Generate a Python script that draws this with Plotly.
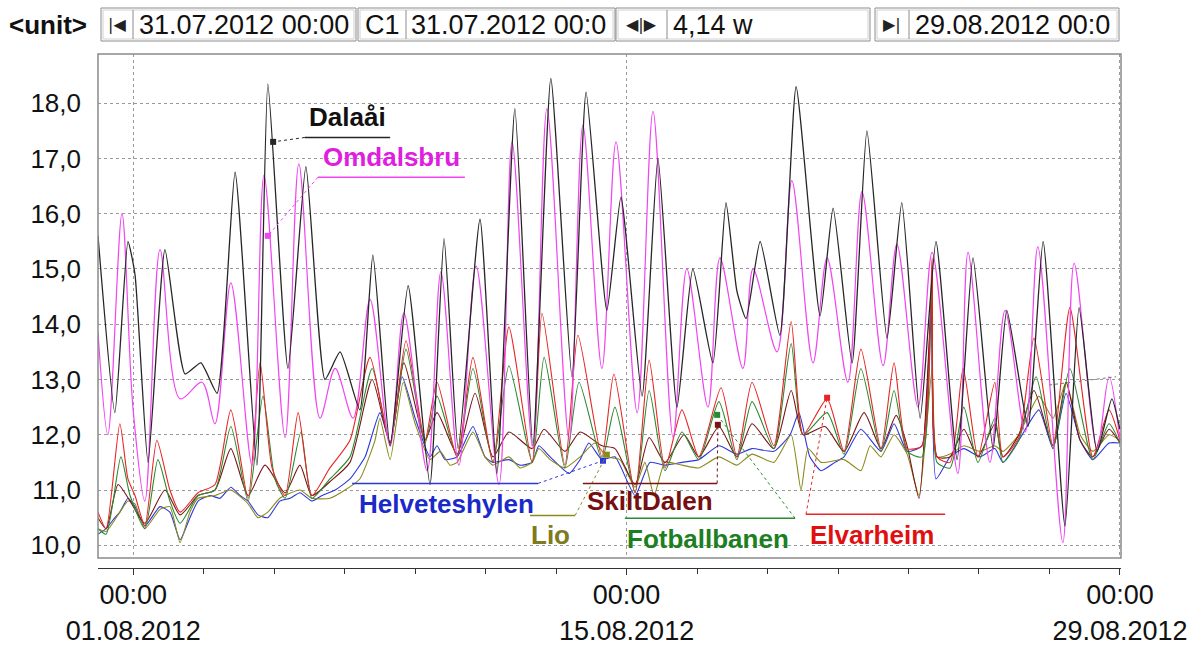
import pandas as pd
import plotly.graph_objects as go

# ---------------- data (days since 31.07.2012 00:00, temperature) ----------------
BASE = pd.Timestamp("2012-07-31 00:00")

dalaai_t = [0, 0.48, 0.85, 1.05, 1.42, 1.90, 2.47, 2.92, 3.38, 3.89, 4.51, 4.82, 5.39, 5.90, 6.44,
            6.87, 7.43, 7.80, 8.29, 8.80, 9.42, 9.82, 10.22, 10.84, 11.32, 11.83, 12.34, 12.85,
            13.45, 13.85, 14.44, 14.84, 15.44, 15.89, 16.43, 16.88, 17.45, 17.82, 18.13, 18.39,
            18.79, 19.35, 19.81, 20.49, 20.86, 21.40, 21.82, 22.39, 22.81, 23.33, 23.78, 24.38,
            24.83, 25.40, 25.79, 26.39, 26.82, 27.44, 27.84, 28.35, 28.77, 29.0]
dalaai_v = [15.6, 12.4, 15.5, 14.9, 11.5, 15.35, 13.1, 13.3, 12.75, 16.75, 11.45, 18.35, 13.2, 16.85,
            13.0, 13.5, 12.45, 15.25, 11.8, 14.7, 11.1, 15.55, 11.75, 15.9, 11.3, 17.9, 11.8, 18.45,
            13.05, 18.2, 14.25, 16.3, 12.7, 17.0, 12.5, 15.0, 13.3, 16.2, 14.6, 14.1, 15.5, 13.8,
            18.3, 14.15, 16.1, 13.3, 17.5, 13.75, 16.2, 12.3, 15.5, 11.55, 15.2, 11.75, 14.25,
            12.15, 15.5, 10.35, 14.3, 11.7, 12.65, 12.1]

omdal_t = [0, 0.28, 0.68, 0.99, 1.33, 1.76, 2.33, 2.95, 3.32, 3.77, 4.37, 4.71, 5.31, 5.70, 6.30,
           6.73, 7.24, 7.72, 8.29, 8.68, 9.34, 9.73, 10.24, 10.73, 11.38, 11.75, 12.34, 12.74,
           13.37, 13.76, 14.30, 14.70, 15.30, 15.75, 16.32, 16.71, 17.31, 17.65, 18.30, 18.59,
           19.27, 19.69, 20.29, 20.69, 21.28, 21.68, 22.28, 22.67, 23.27, 23.67, 24.40, 24.69,
           25.31, 25.74, 26.31, 26.67, 27.38, 27.70, 28.35, 28.69, 29.0]
omdal_v = [13.85, 12.0, 16.0, 12.5, 10.8, 15.35, 12.65, 12.95, 12.2, 14.75, 11.45, 16.7, 11.95, 16.9,
           12.3, 13.2, 12.3, 14.45, 11.8, 14.2, 11.35, 14.95, 11.45, 15.05, 11.1, 17.3, 11.75, 17.9,
           11.9, 17.6, 13.2, 17.3, 12.4, 17.85, 11.95, 15.0, 12.5, 15.2, 13.2, 15.0, 13.5, 16.6,
           13.3, 15.2, 12.95, 16.4, 13.25, 15.45, 12.5, 15.3, 11.3, 15.3, 11.5, 14.25, 12.05,
           15.4, 10.05, 15.1, 11.75, 13.05, 11.9]

elvar_t = [0, 0.23, 0.62, 0.85, 1.05, 1.33, 1.67, 2.04, 2.33, 2.84, 3.32, 3.77, 4.26, 4.60, 4.94,
           5.31, 5.68, 6.07, 6.58, 7.15, 7.72, 8.29, 8.74, 9.28, 9.62, 10.19, 10.64, 11.21, 11.66,
           12.32, 12.60, 13.25, 13.62, 14.30, 14.64, 15.24, 15.64, 16.09, 16.57, 17.05, 17.68,
           18.13, 18.56, 19.18, 19.67, 20.01, 20.69, 21.17, 21.65, 22.22, 22.59, 22.96, 23.38,
           23.67, 23.81, 24.18, 24.55, 24.97, 25.45, 25.68, 26.13, 26.56, 27.10, 27.58, 28.23,
           28.69, 29.0]
elvar_v = [10.6, 10.3, 12.2, 11.2, 10.9, 10.35, 11.9, 11.0, 10.6, 10.95, 11.1, 12.45, 10.85, 13.3,
           11.4, 10.9, 12.4, 10.9, 11.4, 11.9, 13.4, 11.85, 13.7, 11.9, 12.95, 11.6, 13.4, 11.5,
           13.95, 11.5, 14.2, 11.45, 13.8, 11.6, 13.1, 10.95, 13.35, 11.4, 12.45, 11.6, 12.85,
           11.6, 12.95, 11.8, 14.05, 12.0, 12.65, 11.7, 13.55, 11.75, 13.3, 11.75, 11.8, 15.2,
           11.6, 11.5, 13.2, 11.6, 12.95, 11.6, 11.95, 13.75, 11.8, 14.3, 11.6, 12.45, 11.9]

fotball_t = [0, 0.23, 0.65, 0.91, 1.33, 1.70, 2.04, 2.33, 2.84, 3.32, 3.77, 4.26, 4.68, 5.02, 5.31,
             5.76, 6.07, 6.58, 7.15, 7.78, 8.29, 8.74, 9.28, 9.62, 10.19, 10.64, 11.21, 11.66,
             12.32, 12.66, 13.25, 13.65, 14.30, 14.67, 15.24, 15.64, 16.09, 16.57, 17.05, 17.62,
             18.13, 18.56, 19.18, 19.67, 20.01, 20.69, 21.17, 21.65, 22.22, 22.59, 22.96, 23.38,
             23.67, 23.81, 24.18, 24.57, 24.97, 25.45, 25.68, 26.13, 26.62, 27.10, 27.58, 28.23,
             28.69, 29.0]
fotball_v = [10.3, 10.2, 11.6, 10.9, 10.3, 11.55, 10.8, 10.4, 10.9, 11.0, 12.15, 10.8, 12.7, 11.2,
             10.85, 12.05, 10.85, 11.2, 11.6, 13.2, 11.85, 13.55, 11.85, 12.7, 11.6, 13.2, 11.5,
             13.25, 11.5, 13.4, 11.4, 12.95, 11.55, 12.5, 10.95, 12.8, 11.35, 12.05, 11.55, 12.6,
             11.55, 12.6, 11.75, 13.65, 12.0, 12.4, 11.65, 13.2, 11.7, 12.8, 11.7, 11.6, 14.9,
             11.5, 11.4, 12.5, 11.5, 12.3, 11.5, 11.9, 13.05, 11.75, 13.2, 11.55, 12.2, 11.85]

skilt_t = [0, 0.23, 0.57, 0.91, 1.33, 1.90, 2.33, 2.84, 3.32, 3.77, 4.26, 4.74, 5.31, 5.73, 6.07,
           6.58, 7.15, 7.78, 8.29, 8.68, 9.28, 9.62, 10.19, 10.70, 11.21, 11.66, 12.32, 12.66,
           13.25, 13.68, 14.30, 14.67, 15.24, 15.64, 16.09, 16.63, 17.05, 17.62, 18.13, 18.56,
           19.18, 19.67, 20.01, 20.63, 21.17, 21.74, 22.22, 22.65, 22.96, 23.30, 23.67, 23.81,
           24.18, 24.57, 24.97, 25.45, 25.68, 26.13, 26.56, 27.10, 27.47, 27.87, 28.23, 28.69, 29.0]
skilt_v = [10.5, 10.3, 11.1, 10.8, 10.4, 11.0, 10.55, 10.9, 11.0, 11.75, 10.9, 11.45, 10.95, 11.45,
           10.9, 11.15, 11.5, 13.0, 11.85, 13.3, 11.9, 12.4, 11.65, 12.75, 11.6, 12.05, 11.75, 12.1,
           11.7, 12.05, 11.8, 11.75, 11.1, 11.95, 11.5, 12.0, 11.6, 12.15, 11.6, 12.2, 11.75, 12.8,
           12.0, 12.15, 11.7, 12.4, 11.75, 12.35, 11.8, 10.85, 14.5, 11.6, 11.6, 12.1, 11.6, 12.2,
           11.6, 12.0, 12.8, 11.8, 12.95, 11.9, 11.6, 12.1, 11.85]

helv_t = [0, 0.23, 0.48, 0.62, 0.85, 1.05, 1.33, 1.76, 2.04, 2.33, 2.61, 2.84, 3.18, 3.46, 3.77,
          4.03, 4.26, 4.54, 4.82, 5.16, 5.45, 5.73, 6.07, 6.36, 6.73, 7.15, 7.58, 8.00, 8.29, 8.63,
          9.00, 9.42, 9.62, 9.85, 10.19, 10.64, 10.98, 11.21, 11.66, 11.98, 12.32, 12.51, 12.83,
          13.37, 13.68, 13.93, 14.30, 14.67, 15.24, 15.66, 16.09, 16.57, 17.05, 17.62, 18.13,
          18.56, 19.18, 19.64, 19.89, 20.20, 20.52, 20.91, 21.17, 21.65, 22.22, 22.59, 22.96,
          23.38, 23.64, 23.78, 24.18, 24.57, 25.03, 25.45, 25.68, 26.13, 26.70, 27.10, 27.47,
          27.87, 28.23, 28.69, 29.0]
helv_v = [10.2, 10.3, 10.5, 10.6, 10.85, 10.7, 10.35, 10.7, 10.6, 10.1, 10.5, 10.8, 10.9, 10.85,
          11.05, 10.9, 10.8, 10.55, 10.5, 10.8, 10.85, 10.95, 10.8, 10.9, 11.0, 11.2, 11.6, 12.4,
          11.85, 13.05, 12.3, 11.6, 11.8, 11.55, 11.6, 12.15, 11.6, 11.5, 11.55, 11.45, 11.5, 11.8,
          11.6, 11.3, 11.55, 11.85, 11.55, 11.6, 10.9, 11.5, 11.45, 11.5, 11.55, 11.8, 11.65,
          11.75, 11.7, 12.0, 12.4, 11.6, 11.35, 11.5, 11.6, 12.1, 11.7, 12.2, 11.7, 11.8, 14.4,
          11.2, 11.6, 11.75, 11.6, 11.75, 11.5, 11.9, 12.45, 11.75, 12.75, 11.9, 11.55, 11.85, 11.85]

lio_t = [0, 0.23, 0.62, 0.85, 1.05, 1.33, 1.76, 2.04, 2.33, 2.61, 2.84, 3.32, 3.77, 4.26, 4.54,
         4.82, 5.16, 5.73, 6.07, 6.58, 7.01, 7.43, 7.86, 8.00, 8.29, 8.66, 9.00, 9.42, 9.71, 9.99,
         10.19, 10.64, 10.98, 11.21, 11.66, 11.98, 12.32, 12.51, 12.83, 13.25, 13.68, 14.10,
         14.44, 14.81, 15.24, 15.52, 15.78, 16.09, 16.57, 17.05, 17.62, 18.13, 18.56, 19.18,
         19.67, 19.95, 20.15, 20.52, 21.17, 21.65, 21.91, 22.22, 22.59, 22.96, 23.30, 23.67,
         23.81, 24.18, 24.57, 25.03, 25.45, 25.68, 26.13, 26.70, 27.10, 27.47, 27.87, 28.23,
         28.69, 29.0]
lio_v = [10.3, 10.25, 10.6, 10.8, 10.75, 10.3, 10.65, 10.7, 10.05, 10.6, 10.85, 10.9, 11.0, 10.75,
         10.5, 10.6, 10.85, 11.0, 10.85, 10.85, 11.0, 11.2, 11.9, 12.3, 11.55, 12.95, 12.2, 11.55,
         11.7, 11.45, 11.5, 12.05, 11.6, 11.45, 11.6, 11.4, 11.5, 11.75, 11.55, 11.4, 11.6, 11.85,
         11.6, 11.55, 11.05, 11.5, 10.9, 11.5, 11.45, 11.4, 11.6, 11.45, 11.65, 11.5, 12.0, 11.0,
         11.75, 11.5, 11.55, 11.35, 11.8, 11.6, 12.0, 11.65, 10.9, 13.2, 11.6, 11.65, 11.8, 11.7,
         11.8, 11.7, 12.0, 12.7, 12.3, 12.95, 12.0, 11.7, 12.0, 11.9]

# label anchors: (name, text centre day, text centre value, underline day0, day1, underline value,
#                 marker day, marker value, leader start day)
labels = [
    ("Dalaåi", 7.09, 17.75, 5.87, 8.29, 17.38, 4.97, 17.30, 5.87),
    ("Omdalsbru", 8.34, 17.03, 6.24, 10.41, 16.66, 4.82, 15.60, 6.24),
    ("Helveteshylen", 9.88, 10.74, 7.21, 12.49, 11.12, 14.33, 11.53, 12.49),
    ("Lio", 12.85, 10.18, 12.26, 13.54, 10.54, 14.44, 11.64, 13.54),
    ("SkiltDalen", 15.66, 10.81, 13.76, 17.57, 11.12, 17.59, 12.18, 17.57),
    ("Fotballbanen", 17.31, 10.11, 14.95, 19.78, 10.49, 17.57, 12.36, 19.78),
    ("Elvarheim", 21.96, 10.18, 20.09, 24.04, 10.56, 20.69, 12.67, 20.09),
]

colors = {
    "Dalaåi": "#262626",
    "Omdalsbru": "#f045f0",
    "Helveteshylen": "#2b37d8",
    "Lio": "#8c8a1e",
    "SkiltDalen": "#7a1414",
    "Fotballbanen": "#2a8a30",
    "Elvarheim": "#e82424",
}
text_colors = {
    "Dalaåi": "#111111",
    "Omdalsbru": "#e01ee0",
    "Helveteshylen": "#1a2ac8",
    "Lio": "#7f7a1c",
    "SkiltDalen": "#761010",
    "Fotballbanen": "#1c7f22",
    "Elvarheim": "#e01010",
}

y_ticks = list(range(10, 19))
x_major_days = [1, 15, 29]
x_major_text = ["00:00<br>01.08.2012", "00:00<br>15.08.2012", "00:00<br>29.08.2012"]
x_minor_days = list(range(1, 30, 2))


def ts(days):
    return [BASE + pd.Timedelta(days=float(d)) for d in days]


def tstr(day):
    return (BASE + pd.Timedelta(days=float(day))).strftime("%Y-%m-%d %H:%M:%S")


fig = go.Figure()

series = [
    ("Helveteshylen", helv_t, helv_v, 0.5, 1.1),
    ("Lio", lio_t, lio_v, 0.5, 1.1),
    ("SkiltDalen", skilt_t, skilt_v, 0.6, 1.1),
    ("Fotballbanen", fotball_t, fotball_v, 0.6, 1.1),
    ("Elvarheim", elvar_t, elvar_v, 0.6, 1.1),
    ("Omdalsbru", omdal_t, omdal_v, 0.9, 1.2),
    ("Dalaåi", dalaai_t, dalaai_v, 0.5, 1.3),
]
for name, t, v, sm, w in series:
    fig.add_trace(go.Scatter(x=ts(t), y=v, mode="lines", name=name,
                             line=dict(color=colors[name], width=w, shape="spline", smoothing=sm),
                             hoverinfo="skip", showlegend=False))

# ---------------- pixel helpers for chrome (layout only) ----------------
PL, PR, PT, PB = 98, 1121, 54, 568


def fx(px):
    return (px - PL) / (PR - PL)


def fy(py):
    return (PB - py) / (PB - PT)


shapes = []
annotations = []

# plot frame
shapes.append(dict(type="rect", xref="paper", yref="paper", x0=0, x1=1, y0=fy(558), y1=1,
                   line=dict(color="#8a8a8a", width=1.5), layer="above"))

# dotted grey leader in upper right
shapes.append(dict(type="line", xref="x", yref="y", x0=tstr(26.99), y0=12.9, x1=tstr(28.89), y1=13.05,
                   line=dict(color="#777777", width=1, dash="dot")))

# series labels
for name, tx, tyv, u0, u1, uy, mx, my, ls in labels:
    c = colors[name]
    annotations.append(dict(xref="x", yref="y", x=tstr(tx), y=tyv, text="<b>%s</b>" % name,
                            showarrow=False, xanchor="center", yanchor="middle",
                            font=dict(size=26, color=text_colors[name],
                                      family="Liberation Sans, Arial, sans-serif")))
    shapes.append(dict(type="line", xref="x", yref="y", x0=tstr(u0), x1=tstr(u1), y0=uy, y1=uy,
                       line=dict(color=c, width=1.5)))
    shapes.append(dict(type="line", xref="x", yref="y", x0=tstr(ls), y0=uy, x1=tstr(mx), y1=my,
                       line=dict(color=c, width=1, dash="dot")))
    fig.add_trace(go.Scatter(x=ts([mx]), y=[my], mode="markers", showlegend=False, hoverinfo="skip",
                             marker=dict(symbol="square", size=6, color=c)))

# header boxes
groups = [(101, 133, 356), (358, 406, 615), (616, 667, 870), (875, 909, 1119)]
for a, m, b in groups:
    shapes.append(dict(type="rect", xref="paper", yref="paper", x0=fx(a), x1=fx(b), y0=fy(41), y1=fy(8),
                       line=dict(color="#8c8c8c", width=1)))
    shapes.append(dict(type="rect", xref="paper", yref="paper", x0=fx(a + 2), x1=fx(b - 2), y0=fy(39),
                       y1=fy(10), line=dict(color="#d0d0d0", width=1)))
    shapes.append(dict(type="line", xref="paper", yref="paper", x0=fx(m), x1=fx(m), y0=fy(39), y1=fy(10),
                       line=dict(color="#8c8c8c", width=1)))

hdr_font = dict(size=27, color="#111111", family="Liberation Sans, Arial, sans-serif")
annotations += [
    dict(xref="paper", yref="paper", x=fx(48), y=fy(25), text="<b>&lt;unit&gt;</b>", showarrow=False,
         xanchor="center", yanchor="middle", font=dict(size=26, color="#111111",
                                                       family="Liberation Sans, Arial, sans-serif")),
    dict(xref="paper", yref="paper", x=fx(117), y=fy(25), text="|◀", showarrow=False,
         xanchor="center", yanchor="middle", font=dict(size=16, color="#222222", family="DejaVu Sans")),
    dict(xref="paper", yref="paper", x=fx(137), y=fy(25), text="31.07.2012 00:00", showarrow=False,
         xanchor="left", yanchor="middle", font=hdr_font),
    dict(xref="paper", yref="paper", x=fx(382), y=fy(25), text="C1", showarrow=False,
         xanchor="center", yanchor="middle", font=hdr_font),
    dict(xref="paper", yref="paper", x=fx(409), y=fy(25), text="31.07.2012 00:0", showarrow=False,
         xanchor="left", yanchor="middle", font=hdr_font),
    dict(xref="paper", yref="paper", x=fx(641), y=fy(25), text="◀|▶", showarrow=False,
         xanchor="center", yanchor="middle", font=dict(size=16, color="#222222", family="DejaVu Sans")),
    dict(xref="paper", yref="paper", x=fx(671), y=fy(25), text="4,14 w", showarrow=False,
         xanchor="left", yanchor="middle", font=hdr_font),
    dict(xref="paper", yref="paper", x=fx(892), y=fy(25), text="▶|", showarrow=False,
         xanchor="center", yanchor="middle", font=dict(size=16, color="#222222", family="DejaVu Sans")),
    dict(xref="paper", yref="paper", x=fx(913), y=fy(25), text="29.08.2012 00:0", showarrow=False,
         xanchor="left", yanchor="middle", font=hdr_font),
]

fig.update_layout(
    width=1197, height=649,
    margin=dict(l=PL, r=1197 - PR, t=PT, b=649 - PB, pad=0, autoexpand=False),
    paper_bgcolor="white", plot_bgcolor="white",
    separators=", ",
    showlegend=False,
    font=dict(family="Liberation Sans, Arial, sans-serif", color="#111111"),
    xaxis=dict(
        type="date",
        range=[BASE, BASE + pd.Timedelta(days=29.03)],
        anchor="free", position=0, automargin=False,
        tickmode="array", tickvals=ts(x_major_days), ticktext=x_major_text,
        ticks="outside", ticklen=6, tickcolor="#333333", tickwidth=1,
        ticklabelstandoff=-3,
        showline=True, linecolor="#333333", linewidth=1,
        showgrid=True, gridcolor="#9a9a9a", griddash="dot", gridwidth=1,
        zeroline=False,
        tickfont=dict(size=27, color="#111111"),
        minor=dict(tickmode="array", tickvals=ts(x_minor_days), ticks="outside", ticklen=5,
                   tickcolor="#333333", showgrid=False),
    ),
    yaxis=dict(
        domain=[fy(558), 1],
        range=[9.77, 18.89], automargin=False,
        tickmode="array", tickvals=y_ticks, tickformat=".1f",
        ticks="", ticklabelstandoff=16,
        showgrid=True, gridcolor="#9a9a9a", griddash="dot", gridwidth=1,
        showline=False, zeroline=False,
        tickfont=dict(size=26, color="#111111"),
    ),
    shapes=shapes,
    annotations=annotations,
)

fig.write_html("out.html")
